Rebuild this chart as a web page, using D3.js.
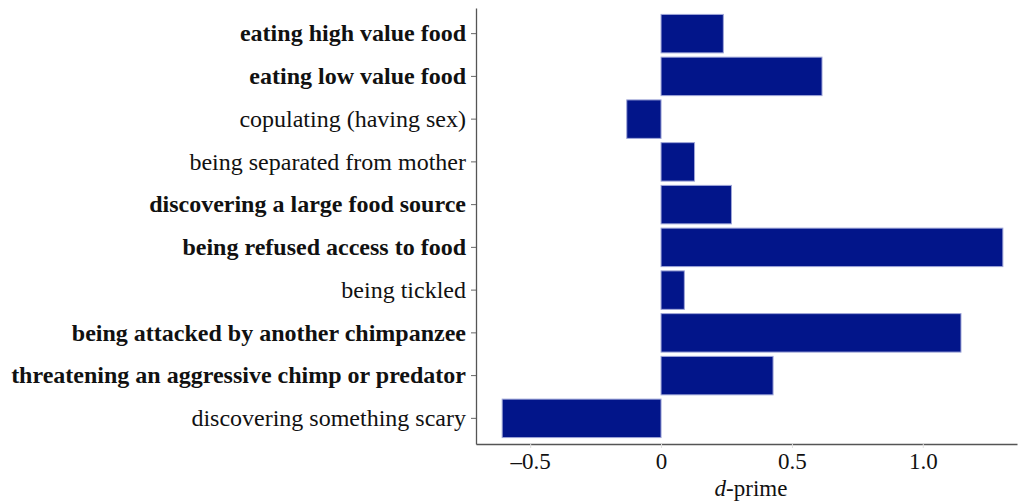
<!DOCTYPE html>
<html><head><meta charset="utf-8">
<script src="https://cdn.jsdelivr.net/npm/d3@7"></script>
<style>body{margin:0;background:#fff}svg{display:block}</style>
</head><body>
<script>
const categories = ["eating high value food","eating low value food","copulating (having sex)","being separated from mother","discovering a large food source","being refused access to food","being tickled","being attacked by another chimpanzee","threatening an aggressive chimp or predator","discovering something scary"];
const dprime = [0.238,0.615,-0.131,0.128,0.269,1.306,0.089,1.146,0.428,-0.607];
const boldFlags = [true,true,false,false,true,true,false,true,true,false];
const xTicks = [-0.5,0,0.5,1.0];
const xTickLabels = ["\u20130.5","0","0.5","1.0"];

const W=1019,H=502;
const svg=d3.select("body").append("svg").attr("width",W).attr("height",H);
const x=d3.scaleLinear().domain([-0.707,1.36]).range([476,1017]);
const y=d3.scaleBand().domain(categories).range([8,444]).paddingInner(0.1).paddingOuter(0.15);
const font="'Liberation Serif','Times New Roman',Times,serif";

svg.append("g").selectAll("rect").data(categories).join("rect")
  .attr("x",(d,i)=>x(Math.min(0,dprime[i])))
  .attr("width",(d,i)=>Math.abs(x(dprime[i])-x(0)))
  .attr("y",d=>y(d)).attr("height",y.bandwidth())
  .attr("fill","#02158a").attr("stroke","#9fa6d8").attr("stroke-width",1);

const xa=svg.append("g").attr("transform","translate(0,444)")
  .call(d3.axisBottom(x).tickValues(xTicks).tickFormat((d,i)=>xTickLabels[i]).tickSize(4).tickPadding(3).tickSizeOuter(0));
xa.select(".domain").attr("stroke","#555").attr("stroke-width",1.3);
xa.selectAll(".tick line").attr("stroke","#e0e0e0");
xa.selectAll("text").attr("font-family",font).attr("font-size",23).attr("fill","#111").attr("dy","0.8em");

const ya=svg.append("g").attr("transform","translate(476,0)")
  .call(d3.axisLeft(y).tickSize(5).tickPadding(5).tickSizeOuter(0));
ya.select(".domain").attr("stroke","#555").attr("stroke-width",1.3);
ya.selectAll(".tick line").attr("stroke","#666");
ya.selectAll("text").attr("font-family",font).attr("font-size",24).attr("fill","#111")
  .attr("font-weight",(d,i)=>boldFlags[i]?"bold":"normal");

const t=svg.append("text").attr("x",751).attr("y",496).attr("text-anchor","middle")
  .attr("font-family",font).attr("font-size",23).attr("fill","#111");
t.append("tspan").attr("font-style","italic").text("d");
t.append("tspan").text("-prime");
</script>
</body></html>
